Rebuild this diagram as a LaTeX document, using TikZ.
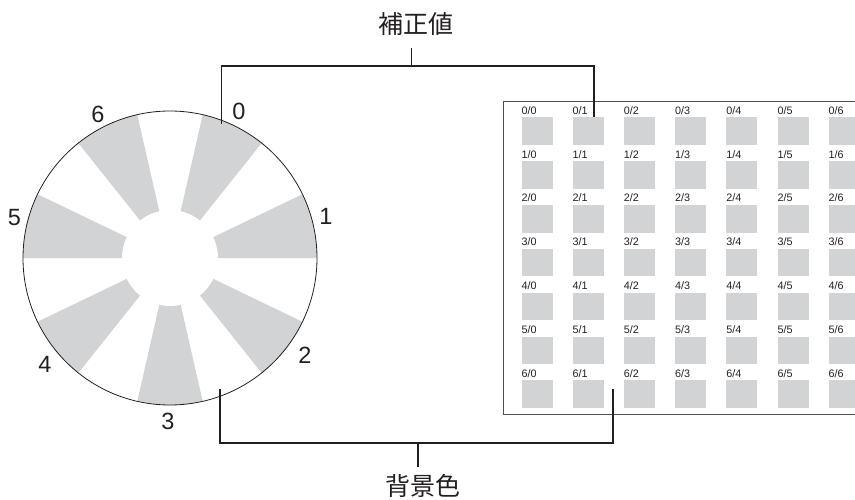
\documentclass[tikz,border=0pt]{standalone}
\usepackage{fontspec}
\setmainfont{Liberation Sans}
\newfontfamily\cjkfont{Noto Sans CJK JP}
\definecolor{wedgegray}{RGB}{209,211,212}
\definecolor{ink}{RGB}{35,31,32}
\definecolor{framegray}{RGB}{80,80,80}
\tikzset{
  conn/.style={draw=ink, line width=1.1pt},
  numlbl/.style={inner sep=0pt, font=\fontsize{23.5}{23.5}\selectfont, text=ink},
  cjklbl/.style={inner sep=0pt, font=\cjkfont\fontsize{25}{25}\selectfont, text=ink},
  cell/.style={fill=wedgegray, draw=none, minimum width=31pt, minimum height=27.5pt, inner sep=0pt, anchor=north west},
  celllbl/.style={inner sep=0pt, font=\fontsize{10.8}{10.8}\selectfont, text=ink, anchor=base west},
}
\begin{document}
\begin{tikzpicture}[x=1pt, y=-1pt]
\useasboundingbox (0,0) rectangle (855,500);
% dial
\coordinate (C) at (170,258);
\foreach \j in {0,...,6}{
  \pgfmathsetmacro{\aone}{51.4286*\j-25.714}
  \pgfmathsetmacro{\atwo}{51.4286*\j}
  \fill[wedgegray] (C) -- ++(\aone:147) arc[start angle=\aone, end angle=\atwo, radius=147] -- cycle;
}
\fill[white] (C) circle[radius=48];
\node[draw=ink, line width=0.8pt, circle, minimum size=294pt, inner sep=0pt] (dial) at (C) {};
% dial numbers
\node[numlbl] (n0) at (239,111) {0};
\node[numlbl] (n1) at (326,216) {1};
\node[numlbl] (n2) at (305,355) {2};
\node[numlbl] (n3) at (168,421.5) {3};
\node[numlbl] (n4) at (45,364) {4};
\node[numlbl] (n5) at (14.5,218) {5};
\node[numlbl] (n6) at (98,114) {6};
% panel
\draw[framegray, line width=1pt] (870,102) -- (503.5,102) -- (503.5,414) -- (870,414);
\foreach \r in {0,...,6}{
  \foreach \c in {0,...,6}{
    \pgfmathsetmacro{\xx}{521.3+51.2*\c}
    \pgfmathsetmacro{\yy}{117.3+43.8*\r}
    \node[cell] (cell\r\c) at (\xx,\yy) {};
    \node[celllbl] (lbl\r\c) at (\xx,\yy-3) {\r/\c};
  }
}
% top connector
\node[cjklbl] (corr) at (416,24) {補正値};
\coordinate (tstem) at (411.7,48);
\coordinate (tbar) at (411.7,66);
\coordinate (tL) at (221.7,124);
\coordinate (tR) at (594,117.5);
\draw[conn] (tstem) -- (tbar);
\draw[conn] (tL) -- (tL |- tbar) -- (tR |- tbar) -- (tR);
% bottom connector
\node[cjklbl] (bg) at (423,486) {背景色};
\coordinate (bstem) at (418,467);
\coordinate (bbar) at (418,443);
\coordinate (bL) at (220,389);
\coordinate (bR) at (613,389);
\draw[conn] (bstem) -- (bbar);
\draw[conn] (bL) -- (bL |- bbar) -- (bR |- bbar) -- (bR);
\end{tikzpicture}
\end{document}
